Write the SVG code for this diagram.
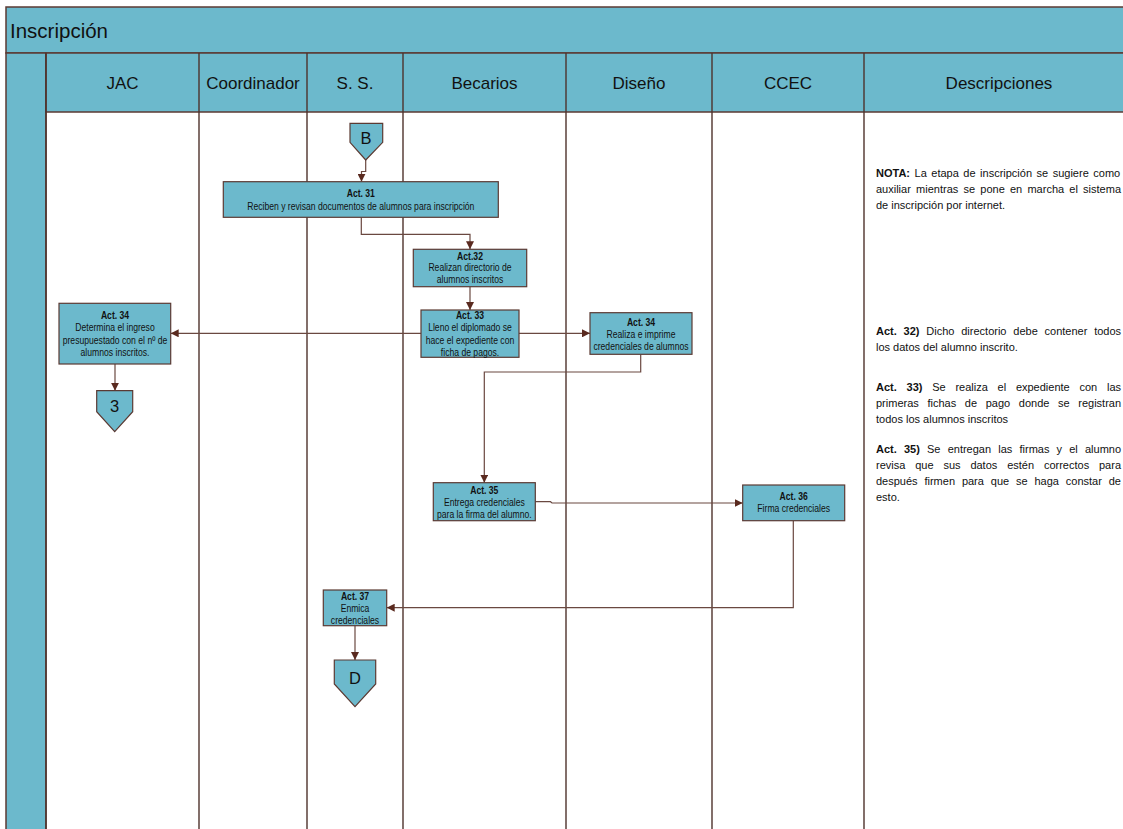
<svg xmlns="http://www.w3.org/2000/svg" width="1123" height="829" viewBox="0 0 1123 829">
  <defs>
    <marker id="arrow" viewBox="0 0 10 10" refX="10" refY="5" markerWidth="8" markerHeight="8" markerUnits="userSpaceOnUse" orient="auto">
      <path d="M0,0 L10,5 L0,10 z" fill="#5a2a1f"/>
    </marker>
    <style>
      .band { fill: #6cb9cc; stroke: #5b3a33; stroke-width: 1.5; }
      .lane { fill: none; stroke: #4e322c; stroke-width: 1.4; }
      .box { fill: #6cb9cc; stroke: #5b3a33; stroke-width: 1.2; }
      .conn { fill: none; stroke: #6a4840; stroke-width: 1.2; marker-end: url(#arrow); }
      .title { font-family: "Liberation Sans", Arial, sans-serif; font-size: 20.5px; fill: #111; }
      .head { font-family: "Liberation Sans", Arial, sans-serif; font-size: 17px; fill: #111; text-anchor: middle; }
      .t { font-family: "Liberation Sans", Arial, sans-serif; font-size: 10.5px; fill: #111; text-anchor: middle; }
      .b { font-weight: bold; }
      .ref { font-family: "Liberation Sans", Arial, sans-serif; font-size: 16.5px; fill: #111; text-anchor: middle; }
      .d { font-family: "Liberation Sans", Arial, sans-serif; font-size: 11px; fill: #111; }
    </style>
  </defs>

  <rect width="1123" height="829" fill="#ffffff"/>

  <!-- pool frame: title band, lane header row, left band -->
  <g id="pool">
    <rect class="band" x="6" y="7" width="1140" height="46"/>
    <rect class="band" x="6" y="53" width="40" height="790"/>
    <rect class="band" x="46" y="53" width="1100" height="59"/>
    <text class="title" x="10" y="38">Inscripción</text>
  </g>

  <!-- lanes -->
  <g id="lanes">
    <line class="lane" x1="46" y1="53" x2="46" y2="829"/>
    <line class="lane" x1="199" y1="53" x2="199" y2="829"/>
    <line class="lane" x1="307" y1="53" x2="307" y2="829"/>
    <line class="lane" x1="403" y1="53" x2="403" y2="829"/>
    <line class="lane" x1="566" y1="53" x2="566" y2="829"/>
    <line class="lane" x1="712" y1="53" x2="712" y2="829"/>
    <line class="lane" x1="864" y1="53" x2="864" y2="829"/>
    <text class="head" x="122.5" y="89">JAC</text>
    <text class="head" x="253" y="89">Coordinador</text>
    <text class="head" x="355" y="89">S. S.</text>
    <text class="head" x="484.5" y="89">Becarios</text>
    <text class="head" x="639" y="89">Diseño</text>
    <text class="head" x="788" y="89">CCEC</text>
    <text class="head" x="999" y="89">Descripciones</text>
  </g>

  <!-- connectors -->
  <g id="connectors">
    <path class="conn" d="M365.7,160 V171.5 H361.5 V181.7"/>
    <path class="conn" d="M361.3,217.3 V234.3 H470 V249.3"/>
    <path class="conn" d="M470,286.7 V310"/>
    <path class="conn" d="M421,333.3 H170.7"/>
    <path class="conn" d="M519,333.3 H590"/>
    <path class="conn" d="M115,364 V390.7"/>
    <path class="conn" d="M640.7,354.3 V372 H484.3 V482.7"/>
    <path class="conn" d="M535.3,501.7 H550.5 L552,503 H742.7"/>
    <path class="conn" d="M793.3,520.7 V607.7 H386.7"/>
    <path class="conn" d="M355,625.7 V660"/>
  </g>

  <!-- off-page connector B -->
  <g id="ref-B">
    <path class="box" d="M350,123.3 H382.7 V142.3 L365.7,160 L350,142.3 z"/>
    <text class="ref" x="366" y="143.5">B</text>
  </g>

  <g id="act31">
    <rect class="box" x="223.3" y="181.7" width="275" height="35.6"/>
    <g transform="translate(360.8,0) scale(0.82,1)">
      <text class="t b" x="0" y="197">Act. 31</text>
      <text class="t" x="0" y="209.8">Reciben y revisan documentos de alumnos para inscripción</text>
    </g>
  </g>

  <g id="act32">
    <rect class="box" x="413.3" y="249.3" width="113.4" height="37.4"/>
    <g transform="translate(470,0) scale(0.82,1)">
      <text class="t b" x="0" y="260">Act.32</text>
      <text class="t" x="0" y="271.5">Realizan directorio de</text>
      <text class="t" x="0" y="283.2">alumnos inscritos</text>
    </g>
  </g>

  <g id="act33">
    <rect class="box" x="421" y="310" width="98" height="47.3"/>
    <g transform="translate(470,0) scale(0.82,1)">
      <text class="t b" x="0" y="319.5">Act. 33</text>
      <text class="t" x="0" y="331.5">Lleno el diplomado se</text>
      <text class="t" x="0" y="343.7">hace el expediente con</text>
      <text class="t" x="0" y="355.7">ficha de pagos.</text>
    </g>
  </g>

  <g id="act34-jac">
    <rect class="box" x="59" y="303.3" width="111.7" height="60.7"/>
    <g transform="translate(115,0) scale(0.82,1)">
      <text class="t b" x="0" y="319.5">Act. 34</text>
      <text class="t" x="0" y="331.2">Determina el ingreso</text>
      <text class="t" x="0" y="343.7">presupuestado con el nº de</text>
      <text class="t" x="0" y="356">alumnos inscritos.</text>
    </g>
  </g>

  <!-- off-page connector 3 -->
  <g id="ref-3">
    <path class="box" d="M96.7,390.7 H132.7 V411.7 L114.7,431.7 L96.7,411.7 z"/>
    <text class="ref" x="114.7" y="412">3</text>
  </g>

  <g id="act34-diseno">
    <rect class="box" x="590" y="312.7" width="102" height="41.6"/>
    <g transform="translate(641,0) scale(0.82,1)">
      <text class="t b" x="0" y="326">Act. 34</text>
      <text class="t" x="0" y="337.8">Realiza e imprime</text>
      <text class="t" x="0" y="349.7">credenciales de alumnos</text>
    </g>
  </g>

  <g id="act35">
    <rect class="box" x="433.3" y="482.7" width="102" height="38"/>
    <g transform="translate(484.3,0) scale(0.82,1)">
      <text class="t b" x="0" y="493.6">Act. 35</text>
      <text class="t" x="0" y="506">Entrega credenciales</text>
      <text class="t" x="0" y="517.7">para la firma del alumno.</text>
    </g>
  </g>

  <g id="act36">
    <rect class="box" x="742.7" y="485" width="102" height="35.7"/>
    <g transform="translate(793.7,0) scale(0.82,1)">
      <text class="t b" x="0" y="500.5">Act. 36</text>
      <text class="t" x="0" y="512.5">Firma credenciales</text>
    </g>
  </g>

  <g id="act37">
    <rect class="box" x="323.3" y="590" width="63.4" height="35.7"/>
    <g transform="translate(355,0) scale(0.82,1)">
      <text class="t b" x="0" y="599.6">Act. 37</text>
      <text class="t" x="0" y="611.6">Enmica</text>
      <text class="t" x="0" y="623.6">credenciales</text>
    </g>
  </g>

  <!-- off-page connector D -->
  <g id="ref-D">
    <path class="box" d="M334.3,660 H375.7 V684 L355,706.7 L334.3,684 z"/>
    <text class="ref" x="355" y="683.5">D</text>
  </g>

  <!-- descriptions column (justified lines widen their word gaps) -->
  <g id="descriptions">
    <text class="d" x="876" y="176.5" word-spacing="1.46"><tspan class="b">NOTA:</tspan> La etapa de inscripción se sugiere como</text>
    <text class="d" x="876" y="192.5" word-spacing="2.16">auxiliar mientras se pone en marcha el sistema</text>
    <text class="d" x="876" y="208.5">de inscripción por internet.</text>

    <text class="d" x="876" y="335" word-spacing="3.75"><tspan class="b">Act. 32)</tspan> Dicho directorio debe contener todos</text>
    <text class="d" x="876" y="350.5">los datos del alumno inscrito.</text>

    <text class="d" x="876" y="391" word-spacing="6.7"><tspan class="b">Act. 33)</tspan> Se realiza el expediente con las</text>
    <text class="d" x="876" y="407" word-spacing="5.58">primeras fichas de pago donde se registran</text>
    <text class="d" x="876" y="423">todos los alumnos inscritos</text>

    <text class="d" x="876" y="453" word-spacing="4.11"><tspan class="b">Act. 35)</tspan> Se entregan las firmas y el alumno</text>
    <text class="d" x="876" y="469" word-spacing="6.8">revisa que sus datos estén correctos para</text>
    <text class="d" x="876" y="485" word-spacing="3.81">después firmen para que se haga constar de</text>
    <text class="d" x="876" y="501">esto.</text>
  </g>
</svg>
